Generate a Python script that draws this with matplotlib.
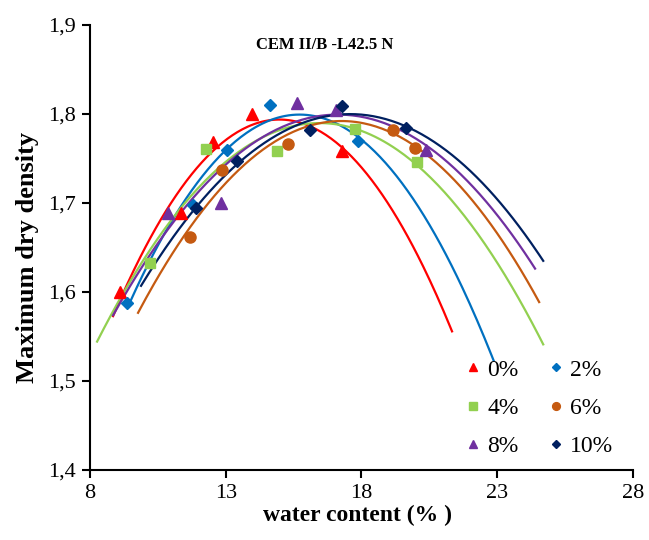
import matplotlib
matplotlib.use("Agg")
import matplotlib.pyplot as plt
import numpy as np

plt.rcParams['font.family'] = ['Liberation Serif', 'DejaVu Serif']

# measured points (water content %, max dry density)
w_0 = [9.11, 11.35, 12.53, 13.97, 17.29]
d_0 = [1.600, 1.689, 1.768, 1.800, 1.758]
w_2 = [9.36, 11.80, 13.05, 14.63, 17.88]
d_2 = [1.588, 1.698, 1.759, 1.810, 1.769]
w_4 = [10.21, 12.28, 14.89, 17.77, 20.05]
d_4 = [1.632, 1.760, 1.758, 1.783, 1.746]
w_6 = [11.69, 12.87, 15.30, 19.17, 19.98]
d_6 = [1.662, 1.737, 1.766, 1.782, 1.762]
w_8 = [10.88, 12.83, 15.63, 17.07, 20.38]
d_8 = [1.689, 1.700, 1.812, 1.804, 1.759]
w_10 = [11.91, 13.42, 16.11, 17.29, 19.65]
d_10 = [1.694, 1.747, 1.782, 1.809, 1.784]

# x range covered by each trendline
fit_range = {
    '0%': (8.85, 21.34),
    '2%': (9.45, 22.87),
    '4%': (8.26, 24.70),
    '6%': (9.77, 24.55),
    '8%': (8.85, 24.40),
    '10%': (9.88, 24.70),
}

labels = ['0%', '2%', '4%', '6%', '8%', '10%']
series = [(w_0, d_0), (w_2, d_2), (w_4, d_4), (w_6, d_6), (w_8, d_8), (w_10, d_10)]
colors = ['#FF0000', '#0070C0', '#92D050', '#C55A11', '#7030A0', '#002060']
markers = ['^', 'D', 's', 'o', '^', 'D']
msizes = [8, 6.5, 7.5, 8, 8, 6.5]

fig = plt.figure(figsize=(6.49, 5.40), dpi=100)
ax = fig.add_axes([0.1387, 0.1296, 0.8363, 0.8247])

handles = {}
for lab, (w, d), c, m, ms in zip(labels, series, colors, markers, msizes):
    coef = np.polyfit(w, d, 2)
    xs = np.linspace(fit_range[lab][0], fit_range[lab][1], 200)
    ax.plot(xs, np.polyval(coef, xs), color=c, lw=1.6, zorder=2)
    h, = ax.plot(w, d, linestyle='none', marker=m, color=c, ms=ms, label=lab, zorder=3)
    handles[lab] = h

ax.set_xlim(8, 28)
ax.set_ylim(1.4, 1.9)
ax.set_xticks([8, 13, 18, 23, 28])
yt = [1.4, 1.5, 1.6, 1.7, 1.8, 1.9]
ax.set_yticks(yt)
ax.set_yticklabels([f"{v:.1f}".replace('.', ',') for v in yt])
ax.tick_params(direction='out', length=6, width=1.5, labelsize=16, pad=4)
for s in ['top', 'right']:
    ax.spines[s].set_visible(False)
for s in ['left', 'bottom']:
    ax.spines[s].set_linewidth(1.5)

ax.set_xlabel('water content (% )', fontsize=17, fontweight='bold')
ax.set_ylabel('Maximum dry density', fontsize=19, fontweight='bold')
ax.xaxis.set_label_coords(0.492, -0.078)
ax.yaxis.set_label_coords(-0.094, 0.478)
ax.text(0.433, 0.955, 'CEM II/B -L42.5 N', transform=ax.transAxes,
        ha='center', va='center', fontsize=12, fontweight='bold')

# legend filled column-wise, so order for row-wise reading
order = ['0%', '4%', '8%', '2%', '6%', '10%']
ax.legend([handles[k] for k in order], order, ncol=2, loc='upper left',
          bbox_to_anchor=(0.675, 0.27), frameon=False,
          fontsize=17, markerscale=0.7, handlelength=0.6, handletextpad=0.3,
          columnspacing=1.3, labelspacing=0.7, borderaxespad=0)

fig.savefig('out.png', dpi=100)
